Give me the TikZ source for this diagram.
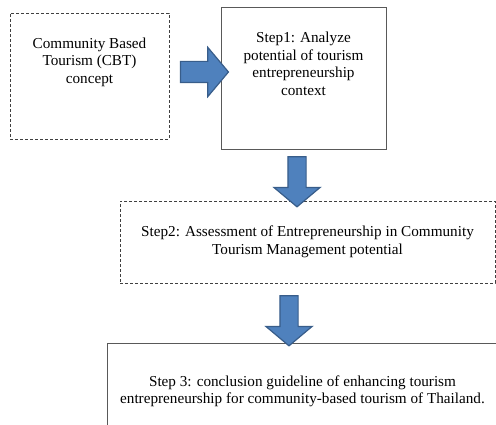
\documentclass[tikz,border=0pt]{standalone}
\usepackage{fontspec}
\setmainfont{Liberation Serif}
\usepackage{xcolor}
\usetikzlibrary{shapes.arrows}

\definecolor{arrowfill}{HTML}{4F81BD}
\definecolor{arrowline}{HTML}{385D8A}

\begin{document}
\begin{tikzpicture}[x=1pt,y=-1pt]
			\tikzstyle{dashbox} = [draw=black!75, densely dashed, line width=0.8pt, align=center, font=\fontsize{15.2}{17.5}\selectfont]
			\tikzstyle{plainbox} = [draw=black!65, line width=0.9pt, align=center, font=\fontsize{15.2}{17.5}\selectfont]
			\tikzset{blockarrow/.style = {single arrow, draw=arrowline, fill=arrowfill, line width=1.2pt, single arrow tip angle=100, single arrow head extend=14pt}}
			
			\useasboundingbox (0,0) rectangle (496,425);
			
			\node[dashbox, minimum width=159pt, minimum height=126pt, text depth=31pt](cbt) at (89.5,76) {Community Based\\Tourism (CBT)\\concept};
			\node[plainbox, minimum width=165pt, minimum height=142pt, text depth=29pt](step1) at (303.5,78) {Step1: Analyze\\potential of tourism\\entrepreneurship\\context};
			\node[dashbox, minimum width=375pt, minimum height=82pt](step2) at (307.5,242) {Step2: Assessment of Entrepreneurship in Community\\Tourism Management potential};
			\node[plainbox, minimum width=391pt, minimum height=97pt](step3) at (302.5,391.5) {Step 3: conclusion guideline of enhancing tourism\\entrepreneurship for community-based tourism of Thailand.};
			
			\node[blockarrow, inner sep=10pt, minimum height=48pt](arrow1) at (200,72) {};
			\node[blockarrow, inner sep=8.5pt, minimum height=50pt, rotate=-90](arrow2) at (297,178) {};
			\node[blockarrow, inner sep=8.5pt, minimum height=50pt, rotate=-90](arrow3) at (289,317) {};
			
			\end{tikzpicture}
\end{document}
